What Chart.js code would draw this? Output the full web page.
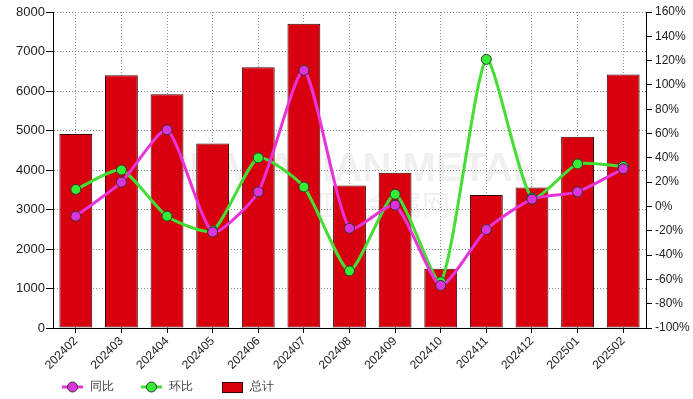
<!DOCTYPE html>
<html>
<head>
<meta charset="utf-8">
<script src="https://cdn.jsdelivr.net/npm/chart.js@4/dist/chart.umd.min.js"></script>
<style>
  html, body { margin: 0; padding: 0; background: #fff; }
  #wrap { width: 693px; height: 399px; position: relative; }
</style>
</head>
<body>
<div id="wrap"><canvas id="chart"></canvas></div>
<script>
// data
const months = ["202402", "202403", "202404", "202405", "202406", "202407", "202408",
  "202409", "202410", "202411", "202412", "202501", "202502"];
const total = [4910, 6400, 5920, 4670, 6600, 7700, 3610, 3930, 1500, 3370, 3560, 4840, 6420];
const yoy = [-8, 20, 63, -21, 12, 112, -18, 1, -65, -19, 6, 12, 31]; // 同比 %
const mom = [14, 30, -8, -20, 40, 16, -53, 10, -62, 121, 7, 35, 33]; // 环比 %

const FONT = "'Liberation Sans', Arial, sans-serif";

// legend drawn by hand (line + dot symbols like the original)
const legendPlugin = {
  id: "legendBelow",
  afterDraw(chart) {
    const ctx = chart.ctx;
    const y = 387;
    ctx.save();
    const lineItem = (x, color, fill, text) => {
      ctx.strokeStyle = color;
      ctx.lineWidth = 3;
      ctx.beginPath();
      ctx.moveTo(x, y);
      ctx.lineTo(x + 21, y);
      ctx.stroke();
      ctx.beginPath();
      ctx.arc(x + 10.5, y, 5, 0, Math.PI * 2);
      ctx.fillStyle = fill;
      ctx.fill();
      ctx.lineWidth = 1;
      ctx.strokeStyle = "#333";
      ctx.stroke();
      ctx.fillStyle = "#444";
      ctx.font = "12px " + FONT;
      ctx.textBaseline = "middle";
      ctx.fillText(text, x + 28, y);
    };
    lineItem(62, "#e833d8", "#dd33dd", "同比");
    lineItem(141, "#44dd33", "#33ee33", "环比");
    ctx.fillStyle = "#d8000f";
    ctx.fillRect(222, 382, 20, 10);
    ctx.strokeStyle = "#3a0000";
    ctx.lineWidth = 1;
    ctx.strokeRect(222.5, 382.5, 20, 10);
    ctx.fillStyle = "#444";
    ctx.fillText("总计", 250, y);
    ctx.restore();
  }
};

// faint watermark behind the marks
const watermark = {
  id: "watermark",
  beforeDatasetsDraw(chart) {
    const ctx = chart.ctx;
    ctx.save();
    ctx.fillStyle = "rgba(150,150,150,0.14)";
    ctx.font = "bold 40px " + FONT;
    ctx.textAlign = "center";
    ctx.textBaseline = "middle";
    ctx.fillText("SMM ASIAN METAL", 350, 170);
    ctx.font = "28px 'Noto Sans CJK SC', sans-serif";
    ctx.fillText("亚洲金属网", 380, 205);
    ctx.restore();
  }
};

const config = {
  data: {
    labels: months,
    datasets: [
      {
        type: "line",
        label: "同比",
        data: yoy,
        yAxisID: "y1",
        borderColor: "#e833d8",
        backgroundColor: "#dd33dd",
        borderWidth: 3,
        tension: 0.2,
        pointRadius: 5,
        pointBorderWidth: 1,
        pointBorderColor: "#333",
        pointBackgroundColor: "#dd33dd",
        order: 1
      },
      {
        type: "line",
        label: "环比",
        data: mom,
        yAxisID: "y1",
        borderColor: "#44dd33",
        backgroundColor: "#33ee33",
        borderWidth: 3,
        tension: 0.2,
        pointRadius: 5,
        pointBorderWidth: 1,
        pointBorderColor: "#333",
        pointBackgroundColor: "#33ee33",
        order: 2
      },
      {
        type: "bar",
        label: "总计",
        data: total,
        yAxisID: "y",
        backgroundColor: "#d8000f",
        borderColor: "#3a0000",
        borderWidth: 1,
        borderSkipped: false,
        barPercentage: 0.72,
        categoryPercentage: 1,
        order: 3
      }
    ]
  },
  options: {
    responsive: true,
    maintainAspectRatio: false,
    animation: false,
    layout: { padding: { top: 12, left: 0, right: 0, bottom: 0 } },
    plugins: {
      legend: { display: false },
      tooltip: { enabled: false }
    },
    scales: {
      x: {
        offset: true,
        grid: {
          offset: false,
          color: "#888",
          lineWidth: 1,
          tickColor: "#000",
          tickLength: 5
        },
        border: { color: "#000", width: 1, dash: [1, 2] },
        ticks: {
          color: "#222",
          font: { family: FONT, size: 12 },
          minRotation: 45,
          maxRotation: 45,
          padding: 1
        },
        afterFit(scale) { scale.height = 71; }
      },
      y: {
        position: "left",
        min: 0,
        max: 8000,
        ticks: {
          stepSize: 1000,
          color: "#222",
          font: { family: FONT, size: 13 },
          padding: 1,
          callback: (v) => String(v)
        },
        grid: {
          color: "#888",
          lineWidth: 1,
          tickColor: "#000",
          tickLength: 7
        },
        border: { color: "#000", width: 1, dash: [1, 2] },
        afterFit(scale) { scale.width = 53; }
      },
      y1: {
        position: "right",
        min: -100,
        max: 160,
        ticks: {
          stepSize: 20,
          color: "#222",
          font: { family: FONT, size: 12 },
          padding: 3,
          callback: (v) => v + "%"
        },
        grid: {
          drawOnChartArea: false,
          tickColor: "#000",
          tickLength: 6
        },
        border: { color: "#000", width: 1 },
        afterFit(scale) { scale.width = 47; }
      }
    }
  },
  plugins: [watermark, legendPlugin]
};

const chart = new Chart(document.getElementById("chart"), config);
</script>
</body>
</html>
